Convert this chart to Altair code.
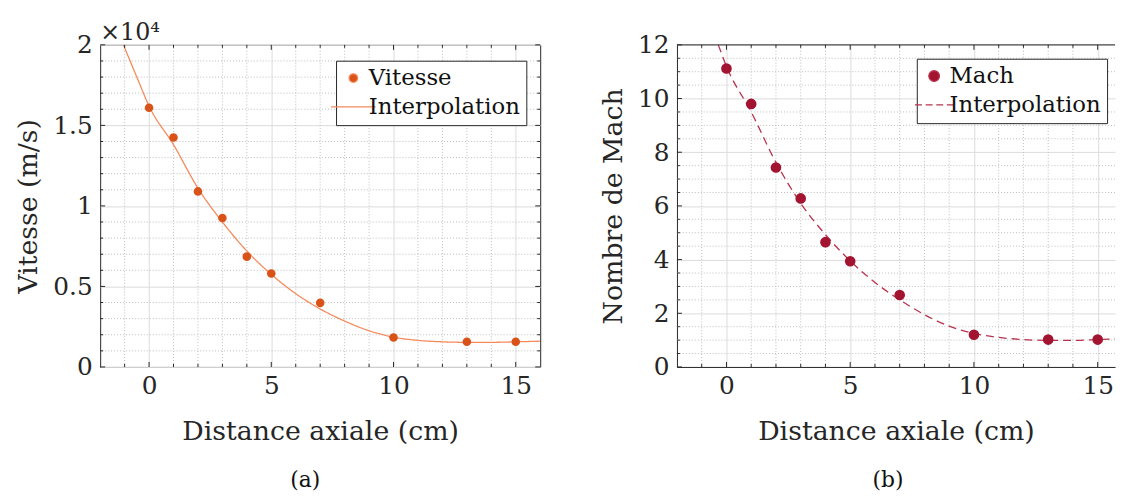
import altair as alt
import pandas as pd

# ---------------- data ----------------
x_mesure = [0, 1, 2, 3, 4, 5, 7, 10, 13, 15]
vitesse = [16100, 14250, 10900, 9250, 6850, 5800, 3980, 1830, 1570, 1570]
mach = [11.12, 9.80, 7.43, 6.28, 4.65, 3.94, 2.68, 1.20, 1.02, 1.02]

x_interp_v = [-1.05, -0.5, 0, 1, 2, 3, 4, 5, 6, 7, 8, 9, 10, 11, 12, 13, 14, 15, 16]
v_interp = [20000, 18000, 16200, 13800, 11100, 9000, 7200, 5750, 4550, 3600,
            2850, 2250, 1850, 1650, 1560, 1530, 1530, 1560, 1600]

x_interp_m = [-0.33, 0, 1, 2, 3, 4, 5, 6, 7, 8, 9, 10, 11, 12, 13, 14, 15, 16]
m_interp = [12.0, 11.2, 9.5, 7.62, 6.1, 4.93, 3.95, 3.15, 2.5, 1.95, 1.52,
            1.25, 1.1, 1.02, 0.99, 0.99, 1.02, 1.06]

x_major = [0, 5, 10, 15]
x_minor = [-1, 1, 2, 3, 4, 6, 7, 8, 9, 11, 12, 13, 14]
v_major = [0, 5000, 10000, 15000, 20000]
v_minor = [v for v in range(1000, 20000, 1000) if v % 5000 != 0]
m_major = [0, 2, 4, 6, 8, 10, 12]
m_minor = [k / 2 for k in range(1, 24) if k % 4 != 0]

FONT = "DejaVu Serif"
FRAME = "#262626"
GRID = "#dcdcdc"
MINOR = "#bdbdbd"


def panel(x_pts, y_pts, xi, yi, name, color, line_color, dash, pt_size,
          y_major, y_minor, x_dom, y_dom, y_title, label_expr, legend_path,
          legend_x, legend_y, width, height, caption, caption_dx, right_frame,
          extra=None):
    xs = alt.Scale(domain=x_dom, nice=False, zero=False)
    ys = alt.Scale(domain=y_dom, nice=False, zero=False)

    pts = pd.DataFrame({"x": x_pts, "y": y_pts, "serie": [name] * len(x_pts)})
    itp = pd.DataFrame({"x": xi, "y": yi})

    xaxis = alt.Axis(values=x_major, title="Distance axiale (cm)", grid=True,
                     gridColor=GRID, gridWidth=1, ticks=False,
                     domain=not right_frame, domainColor=FRAME,
                     labelFlush=False, labelPadding=7, titlePadding=20)
    yaxis_kw = dict(values=y_major, title=y_title, grid=True, gridColor=GRID,
                    gridWidth=1, ticks=False, domain=not right_frame,
                    domainColor=FRAME, labelFlush=False, labelPadding=8,
                    titlePadding=10)
    if label_expr:
        yaxis_kw["labelExpr"] = label_expr
    yaxis = alt.Axis(**yaxis_kw)

    gx = alt.Chart(pd.DataFrame({"x": x_minor})).mark_rule(
        color=MINOR, strokeDash=[1, 2], strokeWidth=1).encode(
        x=alt.X("x:Q", scale=xs, axis=xaxis))
    gy = alt.Chart(pd.DataFrame({"y": y_minor})).mark_rule(
        color=MINOR, strokeDash=[1, 2], strokeWidth=1).encode(
        y=alt.Y("y:Q", scale=ys, axis=yaxis))

    line = alt.Chart(itp).mark_line(
        color=line_color, strokeWidth=1.3, clip=True,
        strokeDash=dash if dash else [1, 0], interpolate="monotone").encode(
        x=alt.X("x:Q", scale=xs), y=alt.Y("y:Q", scale=ys))

    leg = alt.Legend(title=None, orient="none", legendX=legend_x, legendY=legend_y,
                     labelFont=FONT, labelFontSize=23, labelColor="#111111",
                     strokeColor=FRAME, fillColor="white", padding=6,
                     rowPadding=5, symbolSize=pt_size, symbolStrokeColor=line_color,
                     symbolStrokeWidth=1.3, labelOffset=4, symbolOffset=0)
    points = alt.Chart(pts).mark_point(filled=True, size=pt_size, opacity=1).encode(
        x=alt.X("x:Q", scale=xs), y=alt.Y("y:Q", scale=ys),
        color=alt.Color("serie:N", scale=alt.Scale(domain=[name, "Interpolation"],
                                                   range=[color, line_color]),
                        legend=leg),
        shape=alt.Shape("serie:N", scale=alt.Scale(domain=[name, "Interpolation"],
                                                   range=["circle", legend_path]),
                        legend=leg))

    def xt(vals, y0, y1):
        return alt.Chart(pd.DataFrame({"x": vals})).mark_rule(
            color=FRAME, strokeWidth=1).encode(
            x=alt.X("x:Q", scale=xs), y=alt.value(y0), y2=alt.value(y1))

    def yt(vals, x0, x1):
        return alt.Chart(pd.DataFrame({"y": vals})).mark_rule(
            color=FRAME, strokeWidth=1).encode(
            y=alt.Y("y:Q", scale=ys), x=alt.value(x0), x2=alt.value(x1))

    layers = [gx, gy, line, points,
              xt(x_major, height, height - 5), xt(x_minor, height, height - 3),
              xt(x_major, 0, 5), xt(x_minor, 0, 3),
              yt(y_major, 0, 5), yt(y_minor, 0, 3)]
    if right_frame:
        layers += [yt(y_major, width, width - 5), yt(y_minor, width, width - 3)]
    else:
        top = alt.Chart(pd.DataFrame({"x": [x_dom[0]], "x2": [x_dom[1]]})).mark_rule(
            color=FRAME, strokeWidth=1).encode(
            x=alt.X("x:Q", scale=xs), x2="x2:Q", y=alt.value(0))
        layers.append(top)
    if extra is not None:
        layers.append(extra)

    ch = alt.layer(*layers).properties(
        width=width, height=height,
        title=alt.TitleParams(caption, orient="bottom", font=FONT, fontSize=22,
                              fontWeight="normal", color="#111111", offset=26,
                              dx=caption_dx, frame="group", anchor="middle"),
        view=alt.ViewBackground(stroke=FRAME if right_frame else None,
                                strokeWidth=1))
    return ch


expo = alt.Chart(pd.DataFrame({"t": ["×10⁴"]})).mark_text(
    font=FONT, fontSize=24, color=FRAME, align="left", baseline="alphabetic").encode(
    text="t:N", x=alt.value(0), y=alt.value(-5))

a = panel(x_mesure, vitesse, x_interp_v, v_interp, "Vitesse", "#D95319", "#F58A5C",
          None, 75, v_major, v_minor, [-2, 16], [0, 20000], "Vitesse (m/s)",
          "datum.value / 10000 + ''", "M-5.2,0H5.2", 238, 16, 444, 325, "(a)", -15,
          True, extra=expo)

b = panel(x_mesure, mach, x_interp_m, m_interp, "Mach", "#A2142F", "#B8324E",
          [8, 5], 115, m_major, m_minor, [-2, 15.7], [0, 12], "Nombre de Mach",
          None, "M-3.6,0H-2.3M-1.6,0H-0.3M0.4,0H1.7M2.4,0H3.6", 242, 14, 442, 325,
          "(b)", -8, False)

chart = alt.hconcat(a, b, spacing=138, bounds="flush").resolve_scale(
    color="independent", shape="independent"
).resolve_legend(
    color="independent", shape="independent"
).properties(
    padding={"left": 6, "top": 10, "right": 0, "bottom": 0}
).configure_axis(
    labelFont=FONT, labelFontSize=25, labelColor=FRAME,
    titleFont=FONT, titleFontSize=27, titleFontWeight="normal", titleColor=FRAME
).configure_view(stroke=None)

chart.save("out.html", embed_options={"renderer": "svg", "actions": False})
